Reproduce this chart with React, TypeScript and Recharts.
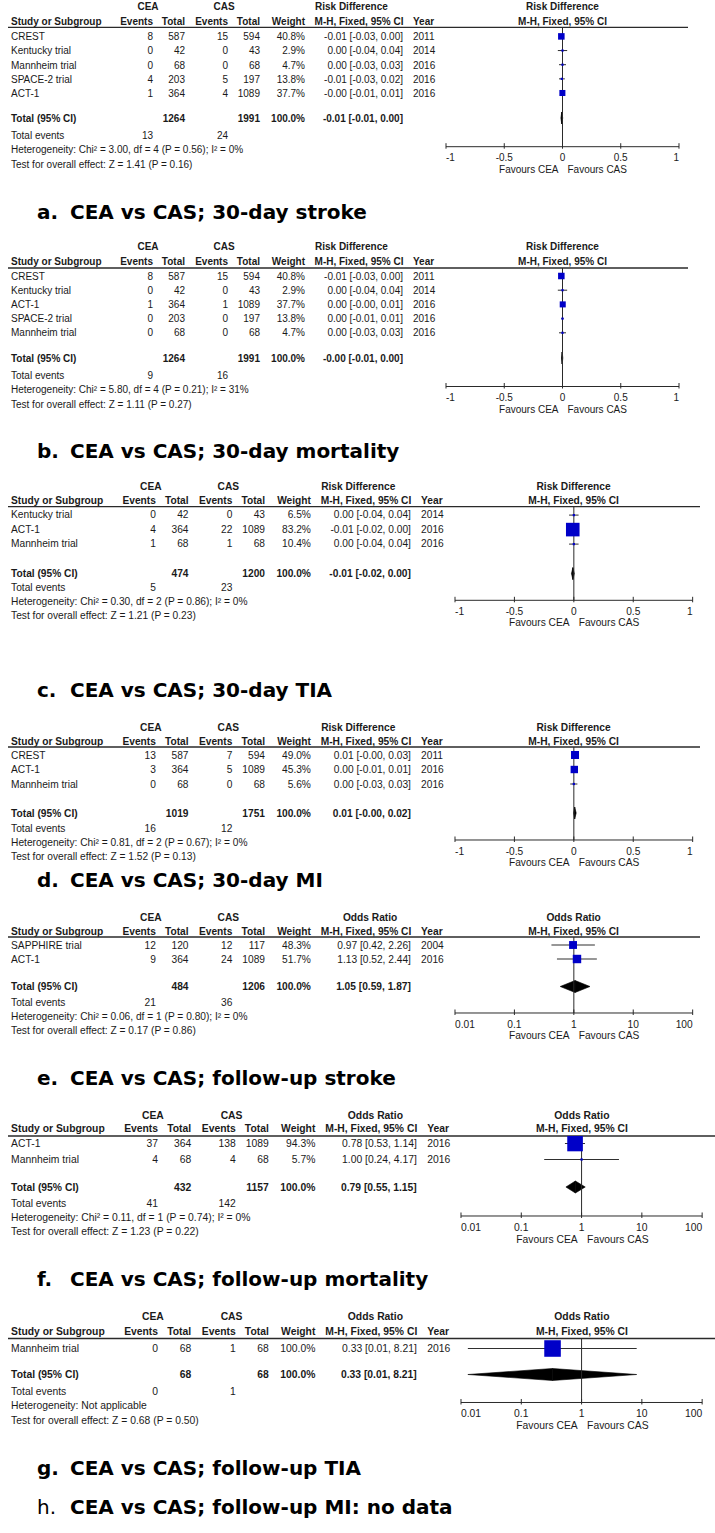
import React from 'react';
import { ScatterChart, Scatter, XAxis, YAxis, ReferenceLine, ReferenceArea } from 'recharts';

// ---------------- data ----------------
const aStudy = ['CREST', 'Kentucky trial', 'Mannheim trial', 'SPACE-2 trial', 'ACT-1'];
const aCeaEvents = [8, 0, 0, 4, 1];
const aCeaTotal = [587, 42, 68, 203, 364];
const aCasEvents = [15, 0, 0, 5, 4];
const aCasTotal = [594, 43, 68, 197, 1089];
const aWeight = [40.8, 2.9, 4.7, 13.8, 37.7];
const aEffect = [-0.01, 0.0, 0.0, -0.006, -0.001];
const aLower = [-0.03, -0.04, -0.03, -0.03, -0.01];
const aUpper = [0.0, 0.04, 0.03, 0.02, 0.01];
const aYear = [2011, 2014, 2016, 2016, 2016];

const bStudy = ['CREST', 'Kentucky trial', 'ACT-1', 'SPACE-2 trial', 'Mannheim trial'];
const bCeaEvents = [8, 0, 1, 0, 0];
const bCeaTotal = [587, 42, 364, 203, 68];
const bCasEvents = [15, 0, 1, 0, 0];
const bCasTotal = [594, 43, 1089, 197, 68];
const bWeight = [40.8, 2.9, 37.7, 13.8, 4.7];
const bEffect = [-0.01, 0.0, 0.002, 0.0, 0.0];
const bLower = [-0.03, -0.04, -0.004, -0.01, -0.03];
const bUpper = [0.0, 0.04, 0.008, 0.01, 0.03];
const bYear = [2011, 2014, 2016, 2016, 2016];

const cStudy = ['Kentucky trial', 'ACT-1', 'Mannheim trial'];
const cCeaEvents = [0, 4, 1];
const cCeaTotal = [42, 364, 68];
const cCasEvents = [0, 22, 1];
const cCasTotal = [43, 1089, 68];
const cWeight = [6.5, 83.2, 10.4];
const cEffect = [0.0, -0.009, 0.0];
const cLower = [-0.04, -0.02, -0.04];
const cUpper = [0.04, 0.001, 0.04];
const cYear = [2014, 2016, 2016];

const dStudy = ['CREST', 'ACT-1', 'Mannheim trial'];
const dCeaEvents = [13, 3, 0];
const dCeaTotal = [587, 364, 68];
const dCasEvents = [7, 5, 0];
const dCasTotal = [594, 1089, 68];
const dWeight = [49.0, 45.3, 5.6];
const dEffect = [0.01, 0.004, 0.0];
const dLower = [-0.002, -0.01, -0.03];
const dUpper = [0.03, 0.01, 0.03];
const dYear = [2011, 2016, 2016];

const eStudy = ['SAPPHIRE trial', 'ACT-1'];
const eCeaEvents = [12, 9];
const eCeaTotal = [120, 364];
const eCasEvents = [12, 24];
const eCasTotal = [117, 1089];
const eWeight = [48.3, 51.7];
const eEffect = [0.97, 1.13];
const eLower = [0.42, 0.52];
const eUpper = [2.26, 2.44];
const eYear = [2004, 2016];

const fStudy = ['ACT-1', 'Mannheim trial'];
const fCeaEvents = [37, 4];
const fCeaTotal = [364, 68];
const fCasEvents = [138, 4];
const fCasTotal = [1089, 68];
const fWeight = [94.3, 5.7];
const fEffect = [0.78, 1.0];
const fLower = [0.53, 0.24];
const fUpper = [1.14, 4.17];
const fYear = [2016, 2016];

const gStudy = ['Mannheim trial'];
const gCeaEvents = [0];
const gCeaTotal = [68];
const gCasEvents = [1];
const gCasTotal = [68];
const gWeight = [100.0];
const gEffect = [0.33];
const gLower = [0.013];
const gUpper = [8.21];
const gYear = [2016];

const panelLetters = ['a.', 'b.', 'c.', 'd.', 'e.', 'f.', 'g.'];
const panelTitles = [
  'CEA vs CAS; 30-day stroke',
  'CEA vs CAS; 30-day mortality',
  'CEA vs CAS; 30-day TIA',
  'CEA vs CAS; 30-day MI',
  'CEA vs CAS; follow-up stroke',
  'CEA vs CAS; follow-up mortality',
  'CEA vs CAS; follow-up TIA',
];
const panelMeasures = ['RD', 'RD', 'RD', 'RD', 'OR', 'OR', 'OR'];
const totalCeaN = [1264, 1264, 474, 1019, 484, 432, 68];
const totalCasN = [1991, 1991, 1200, 1751, 1206, 1157, 68];
const totalCeaEvents = [13, 9, 5, 16, 21, 41, 0];
const totalCasEvents = [24, 16, 23, 12, 36, 142, 1];
const totalEffect = [-0.006, -0.003, -0.008, 0.007, 1.05, 0.79, 0.33];
const totalLower = [-0.014, -0.009, -0.02, -0.002, 0.59, 0.55, 0.013];
const totalUpper = [0.002, 0.003, 0.004, 0.02, 1.87, 1.15, 8.21];
const heterogeneity = [
  'Heterogeneity: Chi\u00b2 = 3.00, df = 4 (P = 0.56); I\u00b2 = 0%',
  'Heterogeneity: Chi\u00b2 = 5.80, df = 4 (P = 0.21); I\u00b2 = 31%',
  'Heterogeneity: Chi\u00b2 = 0.30, df = 2 (P = 0.86); I\u00b2 = 0%',
  'Heterogeneity: Chi\u00b2 = 0.81, df = 2 (P = 0.67); I\u00b2 = 0%',
  'Heterogeneity: Chi\u00b2 = 0.06, df = 1 (P = 0.80); I\u00b2 = 0%',
  'Heterogeneity: Chi\u00b2 = 0.11, df = 1 (P = 0.74); I\u00b2 = 0%',
  'Heterogeneity: Not applicable',
];
const overallTest = [
  'Test for overall effect: Z = 1.41 (P = 0.16)',
  'Test for overall effect: Z = 1.11 (P = 0.27)',
  'Test for overall effect: Z = 1.21 (P = 0.23)',
  'Test for overall effect: Z = 1.52 (P = 0.13)',
  'Test for overall effect: Z = 0.17 (P = 0.86)',
  'Test for overall effect: Z = 1.23 (P = 0.22)',
  'Test for overall effect: Z = 0.68 (P = 0.50)',
];
const rdTicks = [-1, -0.5, 0, 0.5, 1];
const orTicks = [0.01, 0.1, 1, 10, 100];
const lastLetter = 'h.';
const lastTitle = 'CEA vs CAS; follow-up MI: no data';

const panelStudies = [
  { study: aStudy, ceaEv: aCeaEvents, ceaN: aCeaTotal, casEv: aCasEvents, casN: aCasTotal, weight: aWeight, est: aEffect, lo: aLower, hi: aUpper, year: aYear },
  { study: bStudy, ceaEv: bCeaEvents, ceaN: bCeaTotal, casEv: bCasEvents, casN: bCasTotal, weight: bWeight, est: bEffect, lo: bLower, hi: bUpper, year: bYear },
  { study: cStudy, ceaEv: cCeaEvents, ceaN: cCeaTotal, casEv: cCasEvents, casN: cCasTotal, weight: cWeight, est: cEffect, lo: cLower, hi: cUpper, year: cYear },
  { study: dStudy, ceaEv: dCeaEvents, ceaN: dCeaTotal, casEv: dCasEvents, casN: dCasTotal, weight: dWeight, est: dEffect, lo: dLower, hi: dUpper, year: dYear },
  { study: eStudy, ceaEv: eCeaEvents, ceaN: eCeaTotal, casEv: eCasEvents, casN: eCasTotal, weight: eWeight, est: eEffect, lo: eLower, hi: eUpper, year: eYear },
  { study: fStudy, ceaEv: fCeaEvents, ceaN: fCeaTotal, casEv: fCasEvents, casN: fCasTotal, weight: fWeight, est: fEffect, lo: fLower, hi: fUpper, year: fYear },
  { study: gStudy, ceaEv: gCeaEvents, ceaN: gCeaTotal, casEv: gCasEvents, casN: gCasTotal, weight: gWeight, est: gEffect, lo: gLower, hi: gUpper, year: gYear },
];

// ---------------- layout ----------------
type Layout = {
  s: number; h1: number; h2: number; line: number; row0: number; step: number;
  total: number; events: number; het: number; test: number; axis: number; caption: number; lineEnd: number;
};
const layouts: Layout[] = [
  { s: 1, h1: 6, h2: 21.7, line: 27.3, row0: 36.7, step: 14.15, total: 118.3, events: 135, het: 149.5, test: 164, axis: 147, caption: 212, lineEnd: 688 },
  { s: 1, h1: 246.7, h2: 261.7, line: 268, row0: 276, step: 14.2, total: 358, events: 375, het: 389.5, test: 404, axis: 386.5, caption: 451, lineEnd: 688 },
  { s: 1.02, h1: 486.7, h2: 500.7, line: 506.7, row0: 514.8, step: 14.5, total: 573.3, events: 587, het: 601, test: 615, axis: 600, caption: 690, lineEnd: 700 },
  { s: 1.02, h1: 727, h2: 741, line: 747, row0: 755, step: 14.5, total: 813, events: 828, het: 842, test: 856, axis: 840, caption: 880, lineEnd: 700 },
  { s: 1.02, h1: 917, h2: 931, line: 937, row0: 945, step: 14, total: 986.5, events: 1002, het: 1016, test: 1030, axis: 1013, caption: 1078, lineEnd: 700 },
  { s: 1.035, h1: 1115, h2: 1128.5, line: 1136, row0: 1143.5, step: 16, total: 1187, events: 1203, het: 1217, test: 1231, axis: 1216, caption: 1279, lineEnd: 715 },
  { s: 1.035, h1: 1316, h2: 1331, line: 1338.5, row0: 1348, step: 14.5, total: 1374, events: 1391, het: 1405, test: 1420, axis: 1402, caption: 1468, lineEnd: 715 },
];
const lastCaptionY = 1507;

const FONT = '"Liberation Sans", Arial, Helvetica, sans-serif';
const CAP_FONT = '"DejaVu Sans", Verdana, sans-serif';
const INK = '#1a1a1a';
const AXIS = '#2a2a2a';
const BLUE = '#0000c8';
const CI = '#2e2e2e';

// base column positions (panel a scale)
const COL = {
  study: 11, ceaEv: 153, ceaN: 185, casEv: 228, casN: 260, weight: 305,
  ciLeft: 315, ciRight: 403, ciCenter: 359, year: 413, ceaHead: 148, casHead: 224,
  plotL: 446, plotR: 679,
};
const sx = (b: number, s: number) => 8 + (b - 8) * s;
const fmt = (v: number) => v.toFixed(2);

function Txt(props: { x: number; y: number; s: number; anchor?: string; bold?: boolean; children: any }) {
  const { x, y, s, anchor = 'start', bold = false, children } = props;
  return (
    <text x={x} y={y} textAnchor={anchor as any} dominantBaseline="central" fontFamily={FONT}
      fontSize={10 * s} fontWeight={bold ? 700 : 400} fill={INK}>{children}</text>
  );
}

function PanelText({ idx }: { idx: number }) {
  const L = layouts[idx];
  const s = L.s;
  const X = (b: number) => sx(b, s);
  const d = panelStudies[idx];
  const isRD = panelMeasures[idx] === 'RD';
  const mName = isRD ? 'Risk Difference' : 'Odds Ratio';
  const pc = (X(COL.plotL) + X(COL.plotR)) / 2;
  const rowY = (i: number) => L.row0 + i * L.step;
  return (
    <g>
      <Txt x={X(COL.ceaHead)} y={L.h1} s={s} anchor="middle" bold>CEA</Txt>
      <Txt x={X(COL.casHead)} y={L.h1} s={s} anchor="middle" bold>CAS</Txt>
      {isRD
        ? <Txt x={X(COL.ciLeft)} y={L.h1} s={s} bold>{mName}</Txt>
        : <Txt x={X(363)} y={L.h1} s={s} anchor="middle" bold>{mName}</Txt>}
      <Txt x={pc} y={L.h1} s={s} anchor="middle" bold>{mName}</Txt>

      <Txt x={X(COL.study)} y={L.h2} s={s} bold>Study or Subgroup</Txt>
      <Txt x={X(COL.ceaEv)} y={L.h2} s={s} anchor="end" bold>Events</Txt>
      <Txt x={X(COL.ceaN)} y={L.h2} s={s} anchor="end" bold>Total</Txt>
      <Txt x={X(COL.casEv)} y={L.h2} s={s} anchor="end" bold>Events</Txt>
      <Txt x={X(COL.casN)} y={L.h2} s={s} anchor="end" bold>Total</Txt>
      <Txt x={X(COL.weight)} y={L.h2} s={s} anchor="end" bold>Weight</Txt>
      <Txt x={X(COL.ciCenter)} y={L.h2} s={s} anchor="middle" bold>M-H, Fixed, 95% CI</Txt>
      <Txt x={X(COL.year)} y={L.h2} s={s} bold>Year</Txt>
      <Txt x={pc} y={L.h2} s={s} anchor="middle" bold>M-H, Fixed, 95% CI</Txt>

      <line x1={8} x2={L.lineEnd} y1={L.line} y2={L.line} stroke={AXIS} strokeWidth={1.3} />

      {d.study.map((name, i) => (
        <g key={i}>
          <Txt x={X(COL.study)} y={rowY(i)} s={s}>{name}</Txt>
          <Txt x={X(COL.ceaEv)} y={rowY(i)} s={s} anchor="end">{d.ceaEv[i]}</Txt>
          <Txt x={X(COL.ceaN)} y={rowY(i)} s={s} anchor="end">{d.ceaN[i]}</Txt>
          <Txt x={X(COL.casEv)} y={rowY(i)} s={s} anchor="end">{d.casEv[i]}</Txt>
          <Txt x={X(COL.casN)} y={rowY(i)} s={s} anchor="end">{d.casN[i]}</Txt>
          <Txt x={X(COL.weight)} y={rowY(i)} s={s} anchor="end">{d.weight[i].toFixed(1) + '%'}</Txt>
          <Txt x={X(COL.ciRight)} y={rowY(i)} s={s} anchor="end">{`${fmt(d.est[i])} [${fmt(d.lo[i])}, ${fmt(d.hi[i])}]`}</Txt>
          <Txt x={X(COL.year)} y={rowY(i)} s={s}>{d.year[i]}</Txt>
        </g>
      ))}

      <Txt x={X(COL.study)} y={L.total} s={s} bold>Total (95% CI)</Txt>
      <Txt x={X(COL.ceaN)} y={L.total} s={s} anchor="end" bold>{totalCeaN[idx]}</Txt>
      <Txt x={X(COL.casN)} y={L.total} s={s} anchor="end" bold>{totalCasN[idx]}</Txt>
      <Txt x={X(COL.weight)} y={L.total} s={s} anchor="end" bold>100.0%</Txt>
      <Txt x={X(COL.ciRight)} y={L.total} s={s} anchor="end" bold>{`${fmt(totalEffect[idx])} [${fmt(totalLower[idx])}, ${fmt(totalUpper[idx])}]`}</Txt>

      <Txt x={X(COL.study)} y={L.events} s={s}>Total events</Txt>
      <Txt x={X(COL.ceaEv)} y={L.events} s={s} anchor="end">{totalCeaEvents[idx]}</Txt>
      <Txt x={X(COL.casEv)} y={L.events} s={s} anchor="end">{totalCasEvents[idx]}</Txt>
      <Txt x={X(COL.study)} y={L.het} s={s}>{heterogeneity[idx]}</Txt>
      <Txt x={X(COL.study)} y={L.test} s={s}>{overallTest[idx]}</Txt>

      <Txt x={pc - 4 * s} y={L.axis + 22.5 * s} s={s} anchor="end">Favours CEA</Txt>
      <Txt x={pc + 5 * s} y={L.axis + 22.5 * s} s={s}>Favours CAS</Txt>

      <text x={37} y={L.caption} dominantBaseline="central" fontFamily={CAP_FONT} fontSize={20} fontWeight={700} fill="#000">{panelLetters[idx]}</text>
      <text x={70} y={L.caption} dominantBaseline="central" fontFamily={CAP_FONT} fontSize={20} fontWeight={700} fill="#000">{panelTitles[idx]}</text>
    </g>
  );
}

const makeTick = (ticks: number[], s: number) => (props: any) => {
  const { x, y, payload } = props;
  const v = payload && payload.value;
  const i = ticks.indexOf(v);
  const anchor = i === 0 ? 'start' : i === ticks.length - 1 ? 'end' : 'middle';
  return (
    <g>
      <line x1={x} x2={x} y1={y - 3.5} y2={y + 2} stroke={AXIS} strokeWidth={1} />
      <text x={x} y={y + 11 * s} textAnchor={anchor} dominantBaseline="central" fontFamily={FONT}
        fontSize={10 * s} fill={INK}>{String(v)}</text>
    </g>
  );
};

const squareShape = (s: number) => (props: any) => {
  const { cx, cy, payload } = props;
  if (cx == null || cy == null || isNaN(cx) || isNaN(cy)) return <g />;
  const side = Math.max(2.2, payload.w * 0.16) * s;
  return <rect x={cx - side / 2} y={cy - side / 2} width={side} height={side} fill={BLUE} />;
};

const leftHalf = (props: any) => {
  const { x, y, width, height } = props;
  return <polygon points={`${x},${y + height / 2} ${x + width},${y} ${x + width},${y + height}`} fill="#000" stroke="#000" strokeWidth={0.6} />;
};
const rightHalf = (props: any) => {
  const { x, y, width, height } = props;
  return <polygon points={`${x},${y} ${x + width},${y + height / 2} ${x},${y + height}`} fill="#000" stroke="#000" strokeWidth={0.6} />;
};

function ForestPlot({ idx }: { idx: number }) {
  const L = layouts[idx];
  const s = L.s;
  const d = panelStudies[idx];
  const isRD = panelMeasures[idx] === 'RD';
  const left = sx(COL.plotL, s);
  const right = sx(COL.plotR, s);
  const m = 14;
  const axisH = 40;
  const width = right - left + 2 * m;
  const height = L.axis - L.line + axisH;
  const pts = d.est.map((e, i) => ({ x: e, y: i, w: d.weight[i] }));
  const totalRow = (L.total - L.row0) / L.step;
  const yDomain = [(L.line - L.row0) / L.step, (L.axis - L.row0) / L.step];
  const ticks = isRD ? rdTicks : orTicks;
  const nul = isRD ? 0 : 1;
  const half = 6 / L.step;
  return (
    <div style={{ position: 'absolute', left: left - m, top: L.line, width, height }}>
      <ScatterChart width={width} height={height} margin={{ top: 0, right: m, bottom: 0, left: m }}>
        <XAxis type="number" dataKey="x" domain={isRD ? [-1, 1] : [0.01, 100]} scale={isRD ? 'linear' : 'log'}
          ticks={ticks} interval={0} allowDataOverflow height={axisH} tickLine={false} tickSize={0} tickMargin={0}
          axisLine={{ stroke: AXIS, strokeWidth: 1 }} tick={makeTick(ticks, s)} />
        <YAxis type="number" dataKey="y" domain={yDomain} reversed hide allowDataOverflow />
        <ReferenceLine x={nul} stroke={AXIS} strokeWidth={1} />
        {d.est.map((_, i) => (
          <ReferenceLine key={'ci' + i} segment={[{ x: d.lo[i], y: i }, { x: d.hi[i], y: i }]} stroke={CI} strokeWidth={1} />
        ))}
        <ReferenceArea x1={totalLower[idx]} x2={totalEffect[idx]} y1={totalRow - half} y2={totalRow + half} shape={leftHalf} />
        <ReferenceArea x1={totalEffect[idx]} x2={totalUpper[idx]} y1={totalRow - half} y2={totalRow + half} shape={rightHalf} />
        <Scatter data={pts} isAnimationActive={false} shape={squareShape(s)} />
      </ScatterChart>
    </div>
  );
}

export default function App() {
  const idxs = layouts.map((_, i) => i);
  return (
    <div style={{ position: 'absolute', left: 0, top: 0, width: 715, height: 1533, background: '#fff', overflow: 'hidden' }}>
      <svg width={715} height={1533} style={{ position: 'absolute', left: 0, top: 0 }}>
        {idxs.map((i) => <PanelText key={i} idx={i} />)}
        <text x={37} y={lastCaptionY} dominantBaseline="central" fontFamily={CAP_FONT} fontSize={20} fontWeight={400} fill="#000">{lastLetter}</text>
        <text x={70} y={lastCaptionY} dominantBaseline="central" fontFamily={CAP_FONT} fontSize={20} fontWeight={700} fill="#000">{lastTitle}</text>
      </svg>
      {idxs.map((i) => <ForestPlot key={i} idx={i} />)}
    </div>
  );
}
